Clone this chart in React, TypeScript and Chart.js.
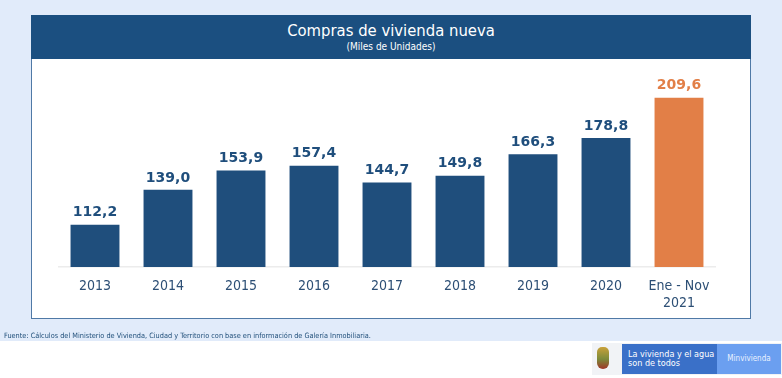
import React, { useEffect, useRef } from "react";
import { Chart, registerables } from "chart.js";

Chart.register(...registerables);

const categories: (string | string[])[] = ["2013", "2014", "2015", "2016", "2017", "2018", "2019", "2020", ["Ene - Nov", "2021"]];
const values: number[] = [112.2, 139.0, 153.9, 157.4, 144.7, 149.8, 166.3, 178.8, 209.6];
const valueLabels: string[] = ["112,2", "139,0", "153,9", "157,4", "144,7", "149,8", "166,3", "178,8", "209,6"];
const highlightIndex: number[] = [8];

const FONT = "'DejaVu Sans Condensed', 'DejaVu Sans', sans-serif";
const LABEL_FONT = "'DejaVu Sans', sans-serif";
const BLUE = "#1f4e7c";
const ORANGE = "#e27f47";

const valueLabelPlugin = {
  id: "valueLabels",
  afterDatasetsDraw(chart: any) {
    const ctx = chart.ctx;
    const meta = chart.getDatasetMeta(0);
    ctx.save();
    ctx.font = `bold 14px ${LABEL_FONT}`;
    ctx.textAlign = "center";
    ctx.textBaseline = "bottom";
    meta.data.forEach((bar: any, i: number) => {
      ctx.fillStyle = highlightIndex.includes(i) ? ORANGE : BLUE;
      ctx.fillText(valueLabels[i], bar.x, bar.y - 5);
    });
    ctx.restore();
  },
};

export default function App() {
  const ref = useRef<HTMLCanvasElement>(null);
  useEffect(() => {
    document.body.style.margin = "0";
    const chart = new Chart(ref.current!, {
      type: "bar",
      data: {
        labels: categories,
        datasets: [
          {
            data: values,
            backgroundColor: values.map((_, i) => (highlightIndex.includes(i) ? ORANGE : BLUE)),
            categoryPercentage: 1,
            barPercentage: 0.67,
          },
        ],
      },
      options: {
        animation: false,
        responsive: false,
        events: [],
        layout: { padding: { left: 58.5, right: 66.5, top: 58, bottom: 55.5 } },
        plugins: { legend: { display: false }, tooltip: { enabled: false }, title: { display: false } },
        scales: {
          x: {
            grid: { display: false, drawTicks: false },
            border: { display: true, color: "#ececec", width: 1.5 },
            ticks: { color: "#2d4f75", font: { family: FONT, size: 14 }, padding: 11, maxRotation: 0, autoSkip: false },
          },
          y: { display: false, min: 80, max: 240 },
        },
      },
      plugins: [valueLabelPlugin],
    });
    return () => chart.destroy();
  }, []);

  return (
    <div style={{ position: "fixed", left: 0, top: 0, width: 782, height: 378, background: "#ffffff", overflow: "hidden", fontFamily: FONT }}>
      <div style={{ position: "absolute", left: 0, top: 0, width: 782, height: 341, background: "#e1ebfa" }} />
      <div style={{ position: "absolute", left: 31, top: 15, width: 720, height: 304, boxSizing: "border-box", border: "1.5px solid #4f79a6", background: "#ffffff" }} />
      <div style={{ position: "absolute", left: 31, top: 15, width: 720, height: 44, background: "#1b4f80", color: "#fff", textAlign: "center" }}>
        <div style={{ fontSize: 16.5, lineHeight: "18px", marginTop: 7 }}>Compras de vivienda nueva</div>
        <div style={{ fontSize: 10, lineHeight: "12px", marginTop: 1 }}>(Miles de Unidades)</div>
      </div>
      <canvas ref={ref} width={782} height={378} style={{ position: "absolute", left: 0, top: 0 }} />
      <div style={{ position: "absolute", left: 4, top: 331, fontSize: 7.3, color: "#1f4e79", whiteSpace: "nowrap" }}>
        Fuente: Cálculos del Ministerio de Vivienda, Ciudad y Territorio con base en información de Galería Inmobiliaria.
      </div>
      <div style={{ position: "absolute", left: 592, top: 343, width: 190, height: 32, background: "#f1f3f6" }} />
      <div style={{ position: "absolute", left: 597, top: 347, width: 12, height: 22, borderRadius: "5px 5px 6px 6px", background: "linear-gradient(#c9a13a, #7c8b3a 55%, #a0362a)" }} />
      <div style={{ position: "absolute", left: 622, top: 344, width: 95, height: 30, background: "#3a70c8", color: "#fff", fontSize: 9, lineHeight: "9px", boxSizing: "border-box", padding: "6px 0 0 6px" }}>
        La vivienda y el agua<br />son de todos
      </div>
      <div style={{ position: "absolute", left: 717, top: 344, width: 64, height: 30, background: "#6b9ff0", color: "#eaf2ff", fontSize: 8, lineHeight: "30px", textAlign: "center" }}>
        Minvivienda
      </div>
    </div>
  );
}
